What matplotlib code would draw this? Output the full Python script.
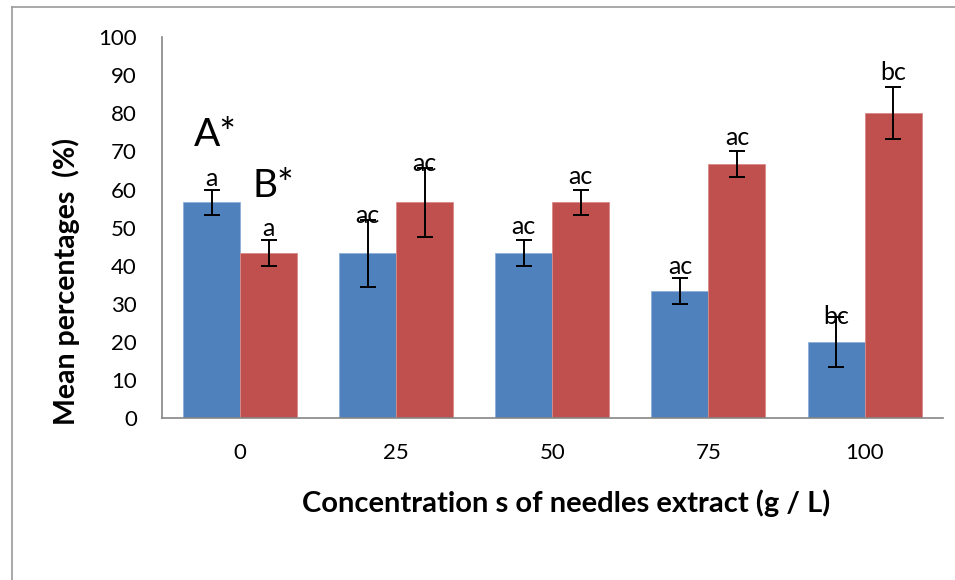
import numpy as np
import matplotlib.pyplot as plt
from matplotlib.lines import Line2D

plt.rcParams['font.family'] = ['Lato', 'DejaVu Sans']

concentrations = ['0', '25', '50', '75', '100']
series_a = [56.67, 43.33, 43.33, 33.33, 20.0]
series_b = [43.33, 56.67, 56.67, 66.67, 80.0]
err_a = [3.33, 8.8, 3.33, 3.4, 6.67]
err_b = [3.33, 9.0, 3.33, 3.4, 6.8]
letters_a = ['a', 'ac', 'ac', 'ac', 'bc']
letters_b = ['a', 'ac', 'ac', 'ac', 'bc']
letter_y_a = [63.0, 53.3, 50.4, 39.7, 26.8]
letter_y_b = [49.9, 66.9, 63.3, 73.7, 90.6]

blue = '#4F81BD'
red = '#C0504D'

fig = plt.figure(figsize=(9.55, 5.8), dpi=100)
ax = fig.add_axes([0.1696, 0.279, 0.8174, 0.657])

x = np.arange(len(concentrations))
w = 0.365
ax.bar(x - w/2, series_a, w, color=blue, edgecolor='#8FAFD8', linewidth=0.6)
ax.bar(x + w/2, series_b, w, color=red, edgecolor='#DA8A88', linewidth=0.6)
ax.errorbar(x - w/2, series_a, yerr=err_a, fmt='none', ecolor='black',
            elinewidth=1.4, capsize=6, capthick=1.4)
ax.errorbar(x + w/2, series_b, yerr=err_b, fmt='none', ecolor='black',
            elinewidth=1.4, capsize=6, capthick=1.4)

for i in range(len(x)):
    ax.text(x[i] - w/2, letter_y_a[i], letters_a[i], ha='center', va='center', fontsize=18)
    ax.text(x[i] + w/2, letter_y_b[i], letters_b[i], ha='center', va='center', fontsize=18)

ax.text(-0.16, 74.3, 'A*', ha='center', va='center', fontsize=28)
ax.text(0.21, 60.8, 'B*', ha='center', va='center', fontsize=28)

ax.set_xlim(-0.5, 4.5)
ax.set_ylim(0, 100)
ax.set_yticks(range(0, 101, 10))
ax.set_xticks(x)
ax.set_xticklabels(concentrations)
ax.tick_params(axis='both', length=0, labelsize=16)
ax.tick_params(axis='x', pad=18)
ax.tick_params(axis='y', pad=18)
for s in ['top', 'right']:
    ax.spines[s].set_visible(False)
for s in ['left', 'bottom']:
    ax.spines[s].set_color('#868686')
    ax.spines[s].set_linewidth(1.2)

fig.text(0.0696, 0.515, 'Mean percentages  (%)', rotation=90, ha='center', va='center',
         fontsize=20.5, fontweight='bold')
fig.text(0.593, 0.133, 'Concentration s of needles extract (g / L)', ha='center', va='center',
         fontsize=21, fontweight='bold')

# outer frame lines, top and left only
fig.add_artist(Line2D([12/955, 1.0], [1 - 7/580, 1 - 7/580], color='#9A9A9A', linewidth=1.2))
fig.add_artist(Line2D([12/955, 12/955], [0, 1 - 7/580], color='#9A9A9A', linewidth=1.2))

fig.savefig('out.png', dpi=100)
